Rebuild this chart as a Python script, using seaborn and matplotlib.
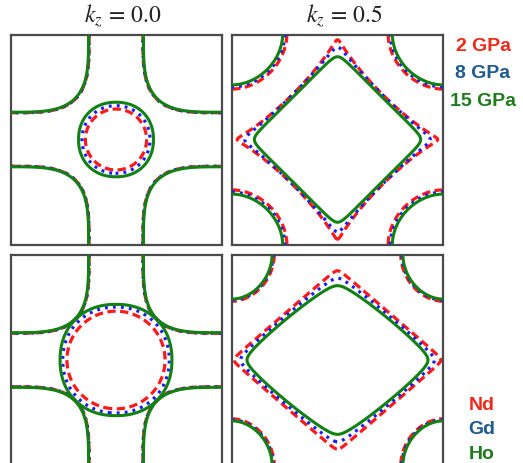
import numpy as np
import matplotlib.pyplot as plt
import seaborn as sns

sns.set_theme(style="white")
plt.rcParams["mathtext.fontset"] = "stix"
plt.rcParams["font.family"] = ["Liberation Sans", "DejaVu Sans"]

kz_titles = [r"$k_z\,=\,0.0$", r"$k_z\,=\,0.5$"]
pressure_labels = ["2 GPa", "8 GPa", "15 GPa"]
element_labels = ["Nd", "Gd", "Ho"]
line_colors = ["#ff1a1a", "#1a1aff", "#138013"]
text_colors = ["#ee2a1a", "#1f5b8e", "#1e7b1e"]

# pocket shapes, k in units of pi/a
# each row: [half-width x, half-width y, exponent, tip rounding] for red, blue, green
gamma_pressure_kz0 = [[0.29, 0.29, 2.0, 0.0], [0.322, 0.322, 2.05, 0.0], [0.355, 0.355, 2.15, 0.0]]
gamma_pressure_kz5 = [[0.95, 0.95, 0.82, 0.02], [0.88, 0.88, 0.88, 0.04], [0.79, 0.79, 0.97, 0.07]]
gamma_element_kz0 = [[0.465, 0.465, 2.0, 0.0], [0.505, 0.505, 2.08, 0.0], [0.53, 0.53, 2.18, 0.0]]
gamma_element_kz5 = [[0.98, 0.85, 1.0, 0.03], [0.92, 0.78, 1.05, 0.05], [0.86, 0.71, 1.1, 0.08]]

# pockets around the zone corners
corner_pressure_kz0 = [[0.745, 0.745, 3.6, 0.0], [0.745, 0.745, 3.6, 0.0], [0.74, 0.74, 3.6, 0.0]]
corner_pressure_kz5 = [[0.52, 0.52, 1.9, 0.0], [0.50, 0.50, 1.9, 0.0], [0.48, 0.48, 1.9, 0.0]]
corner_element_kz0 = [[0.745, 0.745, 3.6, 0.0], [0.745, 0.745, 3.6, 0.0], [0.74, 0.74, 3.6, 0.0]]
corner_element_kz5 = [[0.40, 0.44, 1.9, 0.0], [0.39, 0.43, 1.9, 0.0], [0.38, 0.42, 1.9, 0.0]]

panels = [[(gamma_pressure_kz0, corner_pressure_kz0), (gamma_pressure_kz5, corner_pressure_kz5)],
          [(gamma_element_kz0, corner_element_kz0), (gamma_element_kz5, corner_element_kz5)]]


def pocket(x, y, rx, ry, p, e):
    return ((x / rx) ** 2 + e ** 2) ** (p / 2) + ((y / ry) ** 2 + e ** 2) ** (p / 2) - e ** p


k = np.linspace(-1, 1, 701)
KX, KY = np.meshgrid(k, k)
CX, CY = 1 - np.abs(KX), 1 - np.abs(KY)

styles = [(0, (2.6, 1.4)), (0, (0.9, 1.6)), "solid"]
widths = [2.3, 2.3, 2.2]

fig = plt.figure(figsize=(5.23, 4.64), dpi=100)
W, H = 523, 464
boxes = [[(10.5, 35.5), (232, 35.5)], [(10.5, 256), (232, 256)]]
for r in range(2):
    for c in range(2):
        x0, y0 = boxes[r][c]
        ax = fig.add_axes([x0 / W, 1 - (y0 + 210) / H, 211 / W, 210 / H])
        gam, cor = panels[r][c]
        for i in range(3):
            for prm, X, Y in ((gam[i], KX, KY), (cor[i], CX, CY)):
                cs = ax.contour(KX, KY, pocket(X, Y, *prm), levels=[1],
                                colors=line_colors[i], linewidths=widths[i])
                cs.set_linestyle(styles[i])
                cs.set_zorder(2 + i)
        ax.set_xlim(-1, 1)
        ax.set_ylim(-1, 1)
        ax.set_xticks([])
        ax.set_yticks([])
        for s in ax.spines.values():
            s.set_color("#4a4a4a")
            s.set_linewidth(1.6)

for c, title in enumerate(kz_titles):
    fig.text((boxes[0][c][0] + 112) / W, 1 - 16 / H, title, ha="center", va="center",
             fontsize=17, color="#222222")

for i, lab in enumerate(pressure_labels):
    fig.text(483 / W, 1 - [47, 73, 101][i] / H, lab, ha="center", va="center",
             fontsize=14, fontweight="bold", color=text_colors[i])
for i, lab in enumerate(element_labels):
    fig.text(482 / W, 1 - [406, 430, 455][i] / H, lab, ha="center", va="center",
             fontsize=14, fontweight="bold", color=text_colors[i])

fig.savefig("out.png", dpi=100)
